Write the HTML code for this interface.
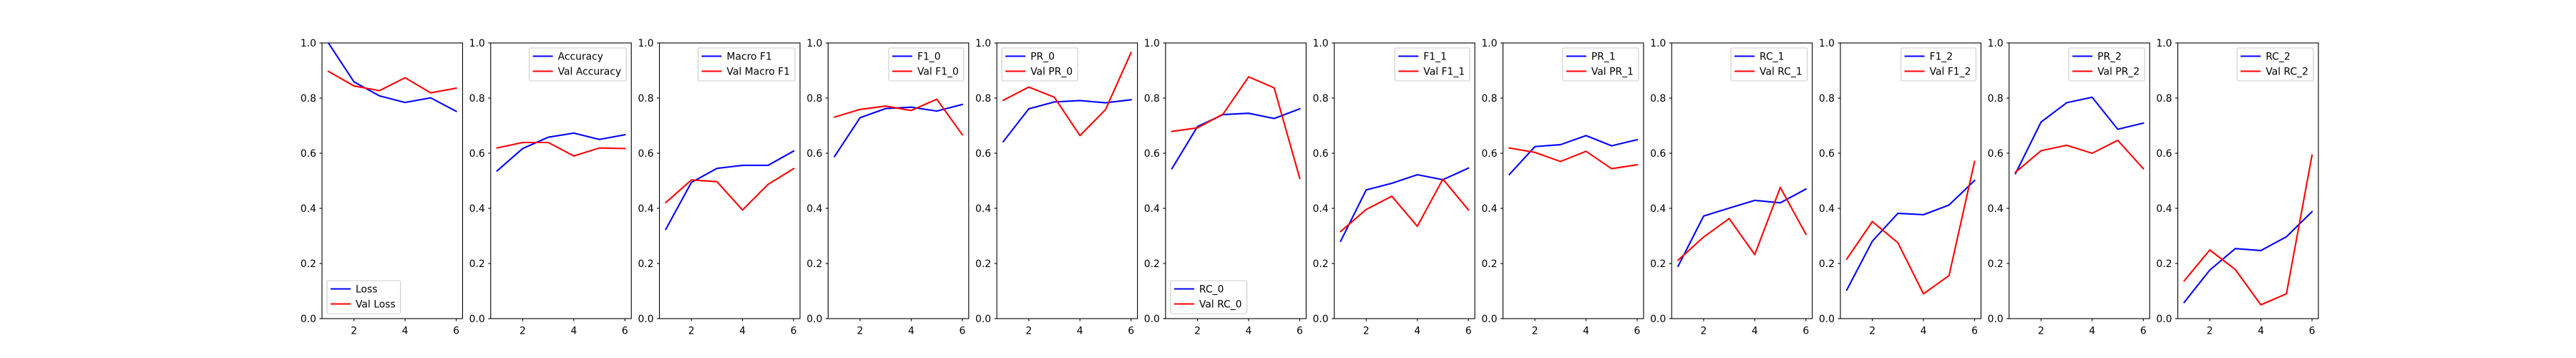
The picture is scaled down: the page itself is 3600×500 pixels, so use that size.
<!DOCTYPE html>
<html><head><meta charset="utf-8"><style>
html,body{margin:0;padding:0;background:#fff;}
svg{display:block;font-family:"DejaVu Sans","Liberation Sans",sans-serif;}
</style></head><body>
<svg id="fig" width="3600" height="500" viewBox="0 0 3600 500" xmlns="http://www.w3.org/2000/svg"></svg>
<script>
const epochs = [1,2,3,4,5,6];
const xTicks = [2,4,6];
const yTicks = [0.0,0.2,0.4,0.6,0.8,1.0];
const trainLabels = ["Loss","Accuracy","Macro F1","F1_0","PR_0","RC_0","F1_1","PR_1","RC_1","F1_2","PR_2","RC_2"];
const valLabels = ["Val Loss","Val Accuracy","Val Macro F1","Val F1_0","Val PR_0","Val RC_0","Val F1_1","Val PR_1","Val RC_1","Val F1_2","Val PR_2","Val RC_2"];
const legendLoc = ["ll","ur","ur","ur","ul","ll","ur","ur","ur","ur","ur","ur"];
const lossTrain = [1.0,0.859,0.808,0.784,0.801,0.752];
const lossVal = [0.897,0.844,0.827,0.874,0.819,0.836];
const accTrain = [0.536,0.617,0.658,0.673,0.650,0.667];
const accVal = [0.619,0.639,0.639,0.590,0.619,0.617];
const macroTrain = [0.324,0.494,0.545,0.556,0.556,0.608];
const macroVal = [0.421,0.503,0.497,0.394,0.487,0.544];
const f10Train = [0.588,0.729,0.762,0.767,0.753,0.777];
const f10Val = [0.731,0.759,0.771,0.755,0.796,0.667];
const pr0Train = [0.642,0.761,0.786,0.791,0.783,0.794];
const pr0Val = [0.792,0.840,0.803,0.664,0.758,0.965];
const rc0Train = [0.544,0.697,0.740,0.745,0.726,0.761];
const rc0Val = [0.679,0.692,0.742,0.877,0.837,0.509];
const f11Train = [0.281,0.467,0.491,0.522,0.504,0.546];
const f11Val = [0.316,0.396,0.444,0.335,0.506,0.394];
const pr1Train = [0.523,0.624,0.631,0.664,0.627,0.649];
const pr1Val = [0.619,0.603,0.570,0.607,0.544,0.558];
const rc1Train = [0.190,0.372,0.401,0.429,0.420,0.470];
const rc1Val = [0.212,0.296,0.363,0.232,0.476,0.306];
const f12Train = [0.104,0.281,0.382,0.377,0.412,0.501];
const f12Val = [0.216,0.352,0.275,0.090,0.156,0.570];
const pr2Train = [0.526,0.713,0.783,0.803,0.687,0.709];
const pr2Val = [0.531,0.609,0.629,0.600,0.647,0.544];
const rc2Train = [0.059,0.176,0.254,0.247,0.297,0.388];
const rc2Val = [0.137,0.249,0.178,0.050,0.090,0.593];
const trainSeries = [lossTrain,accTrain,macroTrain,f10Train,pr0Train,rc0Train,f11Train,pr1Train,rc1Train,f12Train,pr2Train,rc2Train];
const valSeries = [lossVal,accVal,macroVal,f10Val,pr0Val,rc0Val,f11Val,pr1Val,rc1Val,f12Val,pr2Val,rc2Val];

const NS = "http://www.w3.org/2000/svg";
const svg = document.getElementById('fig');
const L = 450, R = 3240, T = 60, B = 445, N = 12;
const W = (R - L) / (N + 0.2 * (N - 1));
const GAP = 0.2 * W;
const FS = 13.9;
function mk(tag, attrs, parent) {
  const e = document.createElementNS(NS, tag);
  for (const k in attrs) e.setAttribute(k, attrs[k]);
  parent.appendChild(e);
  return e;
}
for (let i = 0; i < N; i++) {
  const x0 = L + i * (W + GAP);
  const sx = v => x0 + (v - 0.75) / 5.5 * W;
  const sy = v => B - v * (B - T);
  const g = mk('g', {}, svg);
  
  
  // lines
  const mkLine = (arr, color, name) => {
    const p = mk('polyline', {points: epochs.map((e, k) => sx(e) + ',' + sy(arr[k])).join(' '), fill: 'none', stroke: color, 'stroke-width': 2.08, 'stroke-linejoin': 'round', 'stroke-linecap': 'square'}, g);
    
    
  };
  const clip = mk('clipPath', {id: 'c' + i}, g);
  mk('rect', {x: x0, y: T, width: W, height: B - T}, clip);
  const lg = mk('g', {'clip-path': 'url(#c' + i + ')'}, g);
  const mkLine2 = (arr, color, name) => {
    const p = mk('polyline', {points: epochs.map((e, k) => sx(e) + ',' + sy(arr[k])).join(' '), fill: 'none', stroke: color, 'stroke-width': 2.08, 'stroke-linejoin': 'round', 'stroke-linecap': 'square'}, lg);
    
    
  };
  mkLine2(trainSeries[i], '#0000ff', 'train-line');
  mkLine2(valSeries[i], '#ff0000', 'val-line');
  // frame
  const fr = mk('rect', {x: x0, y: T, width: W, height: B - T, fill: 'none', stroke: '#000', 'stroke-width': 1.1}, g);
  
  
  // y ticks
  yTicks.forEach(v => {
    const y = sy(v);
    mk('line', {x1: x0 - 3.5, x2: x0, y1: y, y2: y, stroke: '#000', 'stroke-width': 1.1}, g);
    const t = mk('text', {x: x0 - 8, y: y + 5, 'text-anchor': 'end', 'font-size': FS, fill: '#000'}, g);
    t.textContent = v.toFixed(1);
    
    
  });
  xTicks.forEach(v => {
    const x = sx(v);
    mk('line', {x1: x, x2: x, y1: B, y2: B + 3.5, stroke: '#000', 'stroke-width': 1.1}, g);
    const t = mk('text', {x: x, y: B + 21.5, 'text-anchor': 'middle', 'font-size': FS, fill: '#000'}, g);
    t.textContent = String(v);
    
    
  });
  // legend
  const leg = mk('g', {}, g);
  
  
  const box = mk('rect', {rx: 2, ry: 2, fill: '#fff', 'fill-opacity': 0.8, stroke: '#cccccc', 'stroke-width': 1.1}, leg);
  const labs = [trainLabels[i], valLabels[i]];
  const cols = ['#0000ff', '#ff0000'];
  const texts = [];
  labs.forEach((lab, k) => {
    const t = mk('text', {'font-size': FS, fill: '#000'}, leg);
    t.textContent = lab;
    
    
    texts.push(t);
  });
  let tw = 0;
  texts.forEach(t => { tw = Math.max(tw, t.getComputedTextLength()); });
  const lw = 40 + tw + 7, lh = 46;
  const loc = legendLoc[i];
  const lx = loc[1] === 'r' ? x0 + W - 7 - lw : x0 + 7;
  const ly = loc[0] === 'u' ? T + 7 : B - 7 - lh;
  box.setAttribute('x', lx); box.setAttribute('y', ly);
  box.setAttribute('width', lw); box.setAttribute('height', lh);
  texts.forEach((t, k) => {
    const ry = ly + 11.5 + k * 21;
    mk('line', {x1: lx + 5, x2: lx + 33, y1: ry, y2: ry, stroke: cols[k], 'stroke-width': 2.08}, leg);
    t.setAttribute('x', lx + 40);
    t.setAttribute('y', ry + 5);
  });
}
</script>
</body></html>
